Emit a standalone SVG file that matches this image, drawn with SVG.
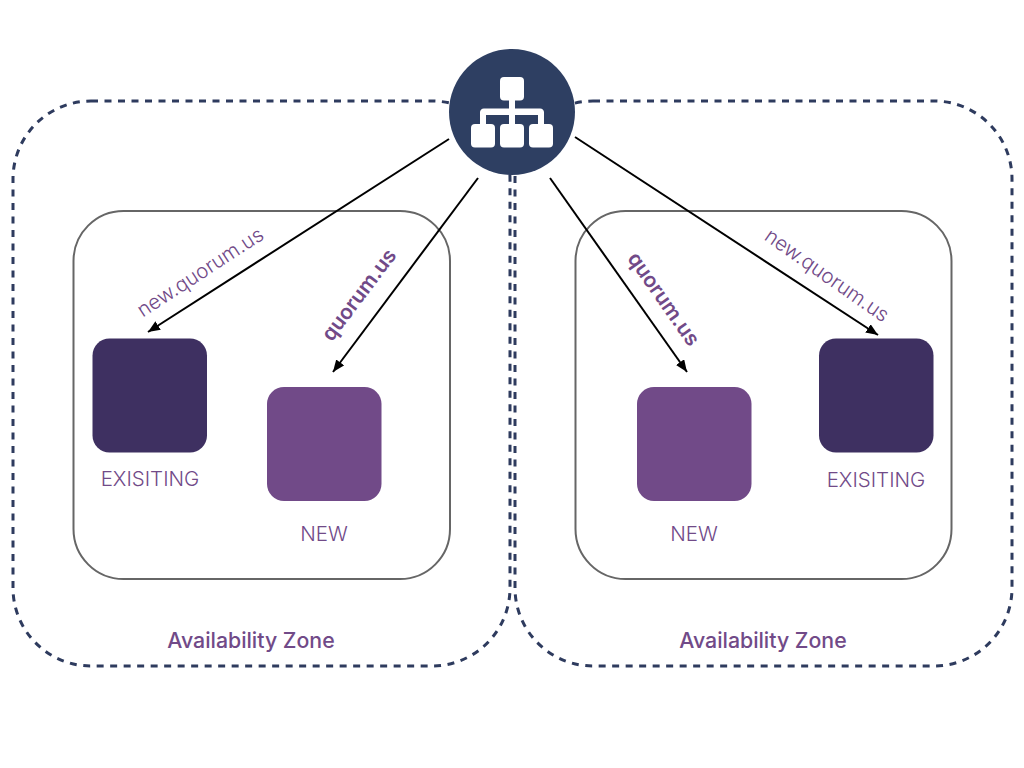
<svg xmlns="http://www.w3.org/2000/svg" width="1024" height="768" viewBox="0 0 1024 768">
<defs>
<marker id="arrow" markerUnits="userSpaceOnUse" markerWidth="14" markerHeight="12" refX="12" refY="5" orient="auto"><path d="M0 0L12 5L0 10Z" fill="#000"/></marker>
</defs>
<style>
.zone{fill:none;stroke:#2e3b5e;stroke-width:3;stroke-dasharray:7 6.5}
.inner{fill:#fff;fill-opacity:0;stroke:#666;stroke-width:2}
.old{fill:#3e3061}
.new{fill:#714a88}
.lbl{font-family:"Inter","Liberation Sans",sans-serif;font-weight:300;fill:#714a88;font-size:20.500px;text-anchor:middle}
.url{font-family:"Inter","Liberation Sans",sans-serif;font-weight:300;fill:#714a88;font-size:20.400px;text-anchor:middle}
.bold{font-family:"Inter","Liberation Sans",sans-serif;font-weight:600;fill:#714a88;font-size:20.800px;text-anchor:middle}
.az{font-family:"Inter","Liberation Sans",sans-serif;font-weight:500;fill:#714a88;font-size:21.300px;text-anchor:middle}
.conn{stroke:#000;stroke-width:2;fill:none;marker-end:url(#arrow)}
</style>
<rect width="1024" height="768" fill="#fff"/>
<g id="zone-left"><rect class="zone" x="13" y="101" width="497" height="565" rx="78" ry="78"/><text class="az" x="251" y="647.500">Availability Zone</text></g>
<g id="zone-right"><rect class="zone" x="515" y="101" width="497" height="565" rx="78" ry="78"/><text class="az" x="763" y="647.500">Availability Zone</text></g>
<g id="group-left"><rect class="inner" x="73.500" y="211" width="376.500" height="368" rx="50" ry="50"/></g>
<g id="group-right"><rect class="inner" x="575.500" y="211" width="376" height="368" rx="50" ry="50"/></g>
<g id="existing-left"><rect class="old" x="92.500" y="338.500" width="114.500" height="114" rx="17"/><text class="lbl" x="150" y="485.500">EXISITING</text></g>
<g id="new-left"><rect class="new" x="267" y="387" width="114.500" height="114" rx="17"/><text class="lbl" x="324" y="540.500">NEW</text></g>
<g id="new-right"><rect class="new" x="637" y="387" width="114.500" height="114" rx="17"/><text class="lbl" x="694" y="540.500">NEW</text></g>
<g id="existing-right"><rect class="old" x="819" y="338.500" width="114.500" height="114" rx="17"/><text class="lbl" x="876" y="486.500">EXISITING</text></g>
<g id="connectors">
<line class="conn" x1="449" y1="139" x2="148" y2="332"/>
<line class="conn" x1="478" y1="178" x2="333" y2="372"/>
<line class="conn" x1="550" y1="178" x2="687" y2="372"/>
<line class="conn" x1="575" y1="137" x2="878" y2="335"/>
</g>
<g id="edge-labels">
<text class="url" transform="translate(204 278) rotate(-33)">new.quorum.us</text>
<text class="bold" transform="translate(364.500 299) rotate(-53)">quorum.us</text>
<text class="bold" transform="translate(658 303) rotate(55)">quorum.us</text>
<text class="url" transform="translate(823 281) rotate(35)">new.quorum.us</text>
</g>
<g id="balancer">
<circle cx="512" cy="112" r="63" fill="#2e3f62"/>
<g fill="#fff">
<rect x="500" y="77" width="24" height="23.500" rx="4"/>
<rect x="471" y="124" width="24" height="23.500" rx="4"/>
<rect x="500" y="124" width="24" height="23.500" rx="4"/>
<rect x="529" y="124" width="24" height="23.500" rx="4"/>
<rect x="509" y="100" width="6" height="24"/>
<path d="M480 124V113a4 4 0 0 1 4-4.500H540a4 4 0 0 1 4 4.500V124H538V115H486V124Z"/>
</g>
</g>
</svg>
